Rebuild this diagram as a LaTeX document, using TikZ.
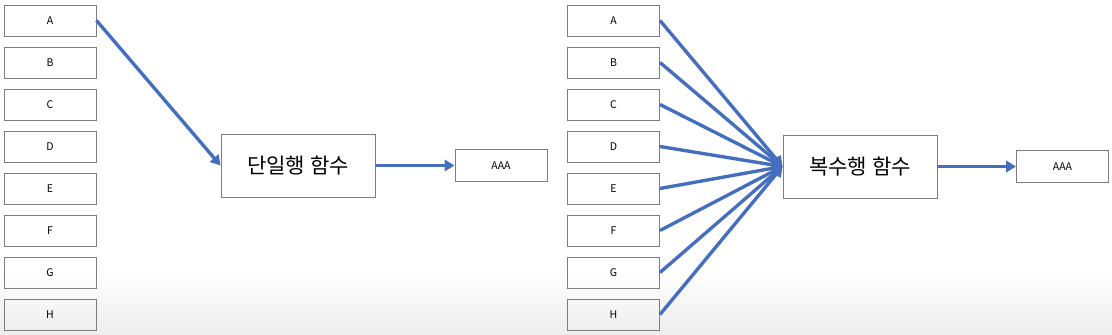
\documentclass[tikz,border=0pt]{standalone}
\usepackage{fontspec}
\setmainfont{Noto Sans CJK KR}
\usepackage{tikz}
\usepackage{xcolor}
\usetikzlibrary{arrows.meta}
\definecolor{lineblue}{RGB}{70,110,190}
\definecolor{boxgray}{RGB}{125,125,125}
\tikzset{
    inbox/.style={draw=boxgray,line width=0.7pt,minimum width=2.3cm,minimum height=0.775cm,inner sep=0pt,font=\fontsize{7.5}{9}\selectfont},
    funcbox/.style={draw=boxgray,line width=0.7pt,minimum width=3.85cm,minimum height=1.575cm,inner sep=0pt,font=\fontsize{15}{18}\selectfont},
    outbox/.style={draw=boxgray,line width=0.7pt,minimum width=2.3cm,minimum height=0.8cm,inner sep=0pt,font=\fontsize{7.5}{9}\selectfont},
    conn/.style={lineblue,line width=2.4pt,-{Triangle[length=7pt,width=8pt]}}
}

\begin{document}
\begin{tikzpicture}
    \useasboundingbox (0,0) rectangle (27.8,8.375);
    \shade[top color=white,bottom color=black!7] (0,0) rectangle (27.8,1.6);

    % single row function
    \node[inbox] (LA) at (1.25,7.8625) {A};
    \node[inbox] (LB) at (1.25,6.8125) {B};
    \node[inbox] (LC) at (1.25,5.7625) {C};
    \node[inbox] (LD) at (1.25,4.7125) {D};
    \node[inbox] (LE) at (1.25,3.6625) {E};
    \node[inbox] (LF) at (1.25,2.6125) {F};
    \node[inbox] (LG) at (1.25,1.5625) {G};
    \node[inbox] (LH) at (1.25,0.5125) {H};
    \node[funcbox] (single) at (7.45,4.2375) {단일행 함수};
    \node[outbox] (Lout) at (12.525,4.2375) {AAA};
    \draw[conn] (LA.east) -- (single.west);
    \draw[conn] (single.east) -- (Lout.west);


    % multi row function
    \node[inbox] (RA) at (15.3375,7.8625) {A};
    \node[inbox] (RB) at (15.3375,6.8125) {B};
    \node[inbox] (RC) at (15.3375,5.7625) {C};
    \node[inbox] (RD) at (15.3375,4.7125) {D};
    \node[inbox] (RE) at (15.3375,3.6625) {E};
    \node[inbox] (RF) at (15.3375,2.6125) {F};
    \node[inbox] (RG) at (15.3375,1.5625) {G};
    \node[inbox] (RH) at (15.3375,0.5125) {H};
    \node[funcbox] (multi) at (21.5,4.2125) {복수행 함수};
    \node[outbox] (Rout) at (26.5625,4.2125) {AAA};
    \draw[conn] (RA.east) -- (multi.west);
    \draw[conn] (RB.east) -- (multi.west);
    \draw[conn] (RC.east) -- (multi.west);
    \draw[conn] (RD.east) -- (multi.west);
    \draw[conn] (RE.east) -- (multi.west);
    \draw[conn] (RF.east) -- (multi.west);
    \draw[conn] (RG.east) -- (multi.west);
    \draw[conn] (RH.east) -- (multi.west);
    \draw[conn] (multi.east) -- (Rout.west);

\end{tikzpicture}
\end{document}
